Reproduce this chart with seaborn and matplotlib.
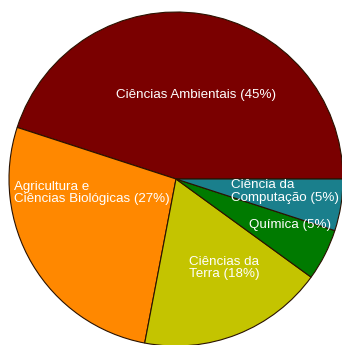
import matplotlib
matplotlib.use("Agg")
import matplotlib.pyplot as plt
import seaborn as sns

sns.set_theme(style="white")
plt.rcParams["font.family"] = ["Liberation Sans", "DejaVu Sans"]

categories = [
    "Ciências Ambientais",
    "Agricultura e\nCiências Biológicas",
    "Ciências da\nTerra",
    "Química",
    "Ciência da\nComputação",
]
shares = [45, 27, 18, 5, 5]
colors = ["#7a0000", "#ff8800", "#c4c400", "#007a00", "#1a7f8c"]

W, H = 342, 345
fig = plt.figure(figsize=(W / 100, H / 100), dpi=100)
ax = fig.add_axes([0, 0, 1, 1])

wedges, _ = ax.pie(
    shares,
    colors=colors,
    startangle=0,
    counterclock=True,
    radius=1.0,
    wedgeprops=dict(edgecolor="#2a1200", linewidth=0.8),
)

# pie centre and radius in pixels
cx, cy, r = 176, 179, 167
ax.set_xlim(-cx / r, (W - cx) / r)
ax.set_ylim(-(H - cy) / r, cy / r)
ax.set_aspect("auto")
ax.axis("off")


def px(x, y):
    return ((x - cx) / r, (cy - y) / r)


labels = [f"{c} ({s}%)" for c, s in zip(categories, shares)]
# label anchor points (pixel coords) and alignment
placements = [
    ((196, 95), "center"),
    ((14, 193), "left"),
    ((189, 268), "left"),
    ((249, 225), "left"),
    ((231, 191.5), "left"),
]
for text, ((x, y), ha) in zip(labels, placements):
    ax.text(*px(x, y), text, color="white", fontsize=9.6, ha=ha, va="center",
            linespacing=1.08)

fig.savefig("out.png", dpi=100, facecolor="white")
